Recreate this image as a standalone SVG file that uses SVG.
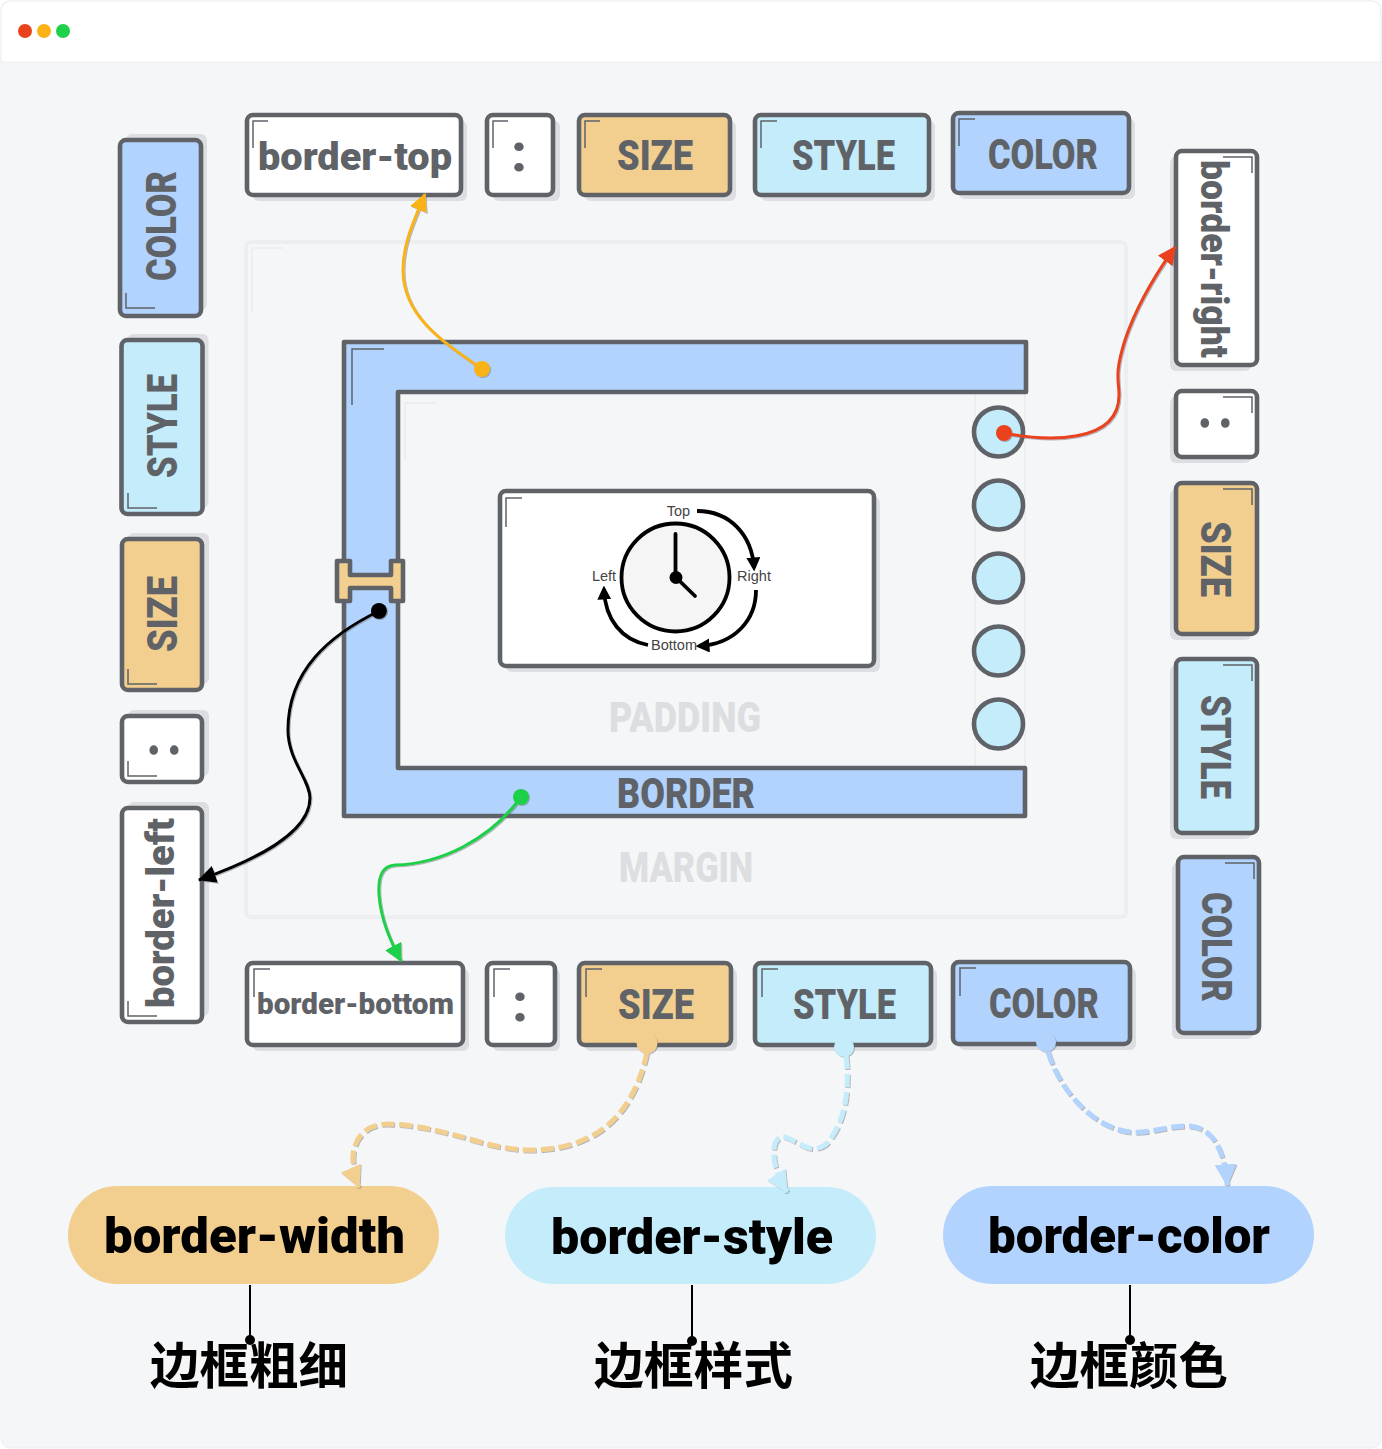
<svg xmlns="http://www.w3.org/2000/svg" width="1382" height="1449" viewBox="0 0 1382 1449">
<style>
.box{stroke:#5f6368;stroke-width:4.600;stroke-linejoin:round}
.sh{fill:#dcdee1}
.w{fill:#fff}.o{fill:#f3cf8f}.c{fill:#c4ecfb}.b{fill:#b1d3fd}
.mk{fill:none;stroke:#5f6368;stroke-width:1.5}
.mkl{fill:none;stroke:#eceef0;stroke-width:2}
.t{font-family:"Roboto","Liberation Sans",sans-serif;font-weight:900;font-size:42px;fill:#5f6368}
.s{font-size:38px}
.xs{font-size:30px}
.col{font-size:52px}
.pill{font-family:"Roboto","Liberation Sans",sans-serif;font-weight:900;font-size:50px;fill:#000}
.zh{font-family:"Noto Sans CJK SC",sans-serif;font-weight:700;font-size:50px;fill:#000}
.clk{font-family:"Liberation Sans",sans-serif;font-size:14.500px;fill:#444;text-anchor:middle}
.ca{fill:none;stroke:#000;stroke-width:3.800}
.con{fill:none;stroke-width:3}
.dash{fill:none;stroke-width:5;stroke-dasharray:13 5}
</style>
<defs>
<filter id="ds" x="-10%" y="-10%" width="120%" height="120%"><feDropShadow dx="1" dy="1" stdDeviation="0.6" flood-color="#5f6368" flood-opacity="0.45"/></filter>
<marker id="aY" markerUnits="userSpaceOnUse" markerWidth="18" markerHeight="18" viewBox="0 0 16 16" refX="15" refY="8" orient="auto"><path d="M0,0L16,8L0,16Z" fill="#f9b316"/></marker>
<marker id="aR" markerUnits="userSpaceOnUse" markerWidth="18" markerHeight="18" viewBox="0 0 16 16" refX="15" refY="8" orient="auto"><path d="M0,0L16,8L0,16Z" fill="#e9431d"/></marker>
<marker id="aK" markerUnits="userSpaceOnUse" markerWidth="18" markerHeight="18" viewBox="0 0 16 16" refX="15" refY="8" orient="auto"><path d="M0,0L16,8L0,16Z" fill="#000"/></marker>
<marker id="aG" markerUnits="userSpaceOnUse" markerWidth="18" markerHeight="18" viewBox="0 0 16 16" refX="15" refY="8" orient="auto"><path d="M0,0L16,8L0,16Z" fill="#1fd14a"/></marker>
<marker id="aO" markerUnits="userSpaceOnUse" markerWidth="22" markerHeight="22" viewBox="0 0 16 16" refX="15" refY="8" orient="auto"><path d="M0,0L16,8L0,16Z" fill="#f3cf8f"/></marker>
<marker id="aC" markerUnits="userSpaceOnUse" markerWidth="22" markerHeight="22" viewBox="0 0 16 16" refX="15" refY="8" orient="auto"><path d="M0,0L16,8L0,16Z" fill="#c4ecfb"/></marker>
<marker id="aB" markerUnits="userSpaceOnUse" markerWidth="22" markerHeight="22" viewBox="0 0 16 16" refX="15" refY="8" orient="auto"><path d="M0,0L16,8L0,16Z" fill="#b1d3fd"/></marker>
<marker id="ac" markerUnits="userSpaceOnUse" markerWidth="14" markerHeight="14" viewBox="0 0 16 16" refX="12" refY="8" orient="auto"><path d="M0,0L16,8L0,16Z" fill="#000"/></marker>
</defs>
<rect width="1382" height="1449" fill="#fff"/>
<rect x="1" y="1" width="1380" height="1447" rx="9" fill="#f5f6f8" stroke="#eceef0"/>
<path d="M1,62V10a9,9 0 0 1 9-9H1372a9,9 0 0 1 9,9V62Z" fill="#fff" stroke="#eceef0"/>
<circle cx="25" cy="31" r="7" fill="#e9431d"/><circle cx="44" cy="31" r="7" fill="#fbb215"/><circle cx="63" cy="31" r="7" fill="#1fd14a"/>

<g id="margin-box">
<rect x="246" y="242" width="880" height="675" rx="5" fill="none" stroke="#eceef0" stroke-width="4"/>
<path class="mkl" d="M252,312V248H283"/>
<text class="t" x="619" y="882" textLength="134" lengthAdjust="spacingAndGlyphs" style="fill:#dcdee1">MARGIN</text>
</g>
<g id="padding-box">
<path class="mkl" d="M405,460V403H437"/>
<path d="M975,394V767M1025,394V767" fill="none" stroke="#eceef0" stroke-width="2"/>
<text class="t" x="609" y="732" textLength="152" lengthAdjust="spacingAndGlyphs" style="fill:#dcdee1">PADDING</text>
</g>
<g id="border-shape">
<path class="box b" d="M344,342H1026V392H398V768H1025V816H344Z"/>
<path class="mk" d="M352,405V349H384"/>
<text class="t" x="617" y="808" textLength="138" lengthAdjust="spacingAndGlyphs">BORDER</text>
</g>
<g id="content-box">
<rect class="sh" x="506" y="497" width="374" height="175" rx="6"/>
<rect class="box w" x="500" y="491" width="374" height="175" rx="6"/>
<path class="mk" d="M506,527V498H522"/>
<circle cx="675.500" cy="577.500" r="54" fill="#f5f5f5" stroke="#000" stroke-width="3.800"/>
<path d="M675.500,577V534M675.500,577L695,596" fill="none" stroke="#000" stroke-width="3.800" stroke-linecap="round"/>
<circle cx="676" cy="577.500" r="6.500" fill="#000"/>
<path class="ca" d="M697,511C730,511 752,535 754,568" marker-end="url(#ac)"/>
<path class="ca" d="M756,590C756,620 735,644 699,646" marker-end="url(#ac)"/>
<path class="ca" d="M648,645C622,640 605,620 604,589" marker-end="url(#ac)"/>
<text class="clk" x="678.500" y="516">Top</text>
<text class="clk" x="754" y="581">Right</text>
<text class="clk" x="604" y="581">Left</text>
<text class="clk" x="674" y="650">Bottom</text>
</g>
<g id="side-dots">
<circle class="box c" cx="998.500" cy="432" r="24.500"/><circle class="box c" cx="998.500" cy="505" r="24.500"/><circle class="box c" cx="998.500" cy="578" r="24.500"/><circle class="box c" cx="998.500" cy="651" r="24.500"/><circle class="box c" cx="998.500" cy="724" r="24.500"/>
</g>
<g id="size-handle"><path class="box o" d="M337,561H350V575H391V561H403V601H391V588H350V601H337Z"/></g>

<g id="top-border-top"><rect class="sh" x="253" y="121" width="214" height="80" rx="6"/><rect class="box w" x="247" y="115" width="214" height="80" rx="6"/><path class="mk" d="M253,148V121H268"/><text class="t s" x="258" y="170" textLength="194" lengthAdjust="spacingAndGlyphs">border-top</text></g>
<g id="top-colon"><rect class="sh" x="493" y="121" width="67" height="80" rx="6"/><rect class="box w" x="487" y="115" width="66" height="80" rx="6"/><path class="mk" d="M493,148V121H508"/><text class="t col" x="519" y="171" text-anchor="middle">:</text></g>
<g id="top-size"><rect class="sh" x="585" y="121" width="151" height="80" rx="6"/><rect class="box o" x="579" y="115" width="151" height="80" rx="6"/><path class="mk" d="M585,148V121H600"/><text class="t" x="617" y="170" textLength="76" lengthAdjust="spacingAndGlyphs">SIZE</text></g>
<g id="top-style"><rect class="sh" x="761" y="121" width="174" height="80" rx="6"/><rect class="box c" x="755" y="115" width="174" height="80" rx="6"/><path class="mk" d="M761,148V121H777"/><text class="t" x="792" y="170" textLength="103" lengthAdjust="spacingAndGlyphs">STYLE</text></g>
<g id="top-color"><rect class="sh" x="959" y="119" width="176" height="80" rx="6"/><rect class="box b" x="953" y="113" width="176" height="80" rx="6"/><path class="mk" d="M959,146V119H975"/><text class="t" x="988" y="169" textLength="110" lengthAdjust="spacingAndGlyphs">COLOR</text></g>

<g id="bottom-border-bottom"><rect class="sh" x="253" y="969" width="216" height="82" rx="6"/><rect class="box w" x="247" y="963" width="216" height="82" rx="6"/><path class="mk" d="M254,997V969H270"/><text class="t xs" x="257" y="1014" textLength="197" lengthAdjust="spacingAndGlyphs">border-bottom</text></g>
<g id="bottom-colon"><rect class="sh" x="493" y="969" width="67" height="82" rx="6"/><rect class="box w" x="487" y="963" width="68" height="82" rx="6"/><path class="mk" d="M494,997V969H510"/><text class="t col" x="520" y="1021" text-anchor="middle">:</text></g>
<g id="bottom-size"><rect class="sh" x="585" y="969" width="152" height="82" rx="6"/><rect class="box o" x="579" y="963" width="152" height="82" rx="6"/><path class="mk" d="M586,997V969H602"/><text class="t" x="618" y="1019" textLength="76" lengthAdjust="spacingAndGlyphs">SIZE</text></g>
<g id="bottom-style"><rect class="sh" x="761" y="969" width="176" height="82" rx="6"/><rect class="box c" x="755" y="963" width="176" height="82" rx="6"/><path class="mk" d="M762,997V969H778"/><text class="t" x="793" y="1019" textLength="103" lengthAdjust="spacingAndGlyphs">STYLE</text></g>
<g id="bottom-color"><rect class="sh" x="959" y="968" width="177" height="82" rx="6"/><rect class="box b" x="953" y="962" width="177" height="82" rx="6"/><path class="mk" d="M960,996V968H976"/><text class="t" x="989" y="1018" textLength="110" lengthAdjust="spacingAndGlyphs">COLOR</text></g>

<g id="left-color"><rect class="sh" x="126" y="134" width="81" height="176" rx="6"/><rect class="box b" x="120" y="140" width="81" height="176" rx="6"/><path class="mk" d="M126,293V308H155"/><text class="t" transform="translate(176 281) rotate(-90)" textLength="110" lengthAdjust="spacingAndGlyphs">COLOR</text></g>
<g id="left-style"><rect class="sh" x="127.500" y="334" width="81" height="174" rx="6"/><rect class="box c" x="121.500" y="340" width="81" height="174" rx="6"/><path class="mk" d="M128,493V508H157"/><text class="t" transform="translate(177 478) rotate(-90)" textLength="104" lengthAdjust="spacingAndGlyphs">STYLE</text></g>
<g id="left-size"><rect class="sh" x="128" y="533" width="81" height="151" rx="6"/><rect class="box o" x="122" y="539" width="80" height="151" rx="6"/><path class="mk" d="M128,669V684H157"/><text class="t" transform="translate(177 652) rotate(-90)" textLength="76" lengthAdjust="spacingAndGlyphs">SIZE</text></g>
<g id="left-colon"><rect class="sh" x="128" y="710" width="81" height="66" rx="6"/><rect class="box w" x="122" y="716" width="80" height="66" rx="6"/><path class="mk" d="M128,761V776H157"/><text class="t col" transform="translate(178 750) rotate(-90)" text-anchor="middle">:</text></g>
<g id="left-border-left"><rect class="sh" x="128" y="802" width="81" height="214" rx="6"/><rect class="box w" x="122" y="808" width="80" height="214" rx="6"/><path class="mk" d="M128,1001V1016H157"/><text class="t s" transform="translate(174 1008) rotate(-90)" textLength="190" lengthAdjust="spacingAndGlyphs">border-left</text></g>

<g id="right-border-right"><rect class="sh" x="1170" y="157" width="81" height="214" rx="6"/><rect class="box w" x="1176" y="151" width="81" height="214" rx="6"/><path class="mk" d="M1223,157H1252V173"/><text class="t s" transform="translate(1201 160) rotate(90)" textLength="198" lengthAdjust="spacingAndGlyphs">border-right</text></g>
<g id="right-colon"><rect class="sh" x="1170" y="397" width="81" height="66" rx="6"/><rect class="box w" x="1176" y="391" width="81" height="66" rx="6"/><path class="mk" d="M1223,397H1252V413"/><text class="t col" transform="translate(1201 423) rotate(90)" text-anchor="middle">:</text></g>
<g id="right-size"><rect class="sh" x="1170" y="489" width="81" height="151" rx="6"/><rect class="box o" x="1176" y="483" width="81" height="151" rx="6"/><path class="mk" d="M1223,489H1252V505"/><text class="t" transform="translate(1201 521) rotate(90)" textLength="76" lengthAdjust="spacingAndGlyphs">SIZE</text></g>
<g id="right-style"><rect class="sh" x="1170" y="665" width="81" height="174" rx="6"/><rect class="box c" x="1176" y="659" width="81" height="174" rx="6"/><path class="mk" d="M1223,665H1252V681"/><text class="t" transform="translate(1201 695) rotate(90)" textLength="104" lengthAdjust="spacingAndGlyphs">STYLE</text></g>
<g id="right-color"><rect class="sh" x="1172" y="863" width="81" height="176" rx="6"/><rect class="box b" x="1178" y="857" width="81" height="176" rx="6"/><path class="mk" d="M1225,863H1254V879"/><text class="t" transform="translate(1202 892) rotate(90)" textLength="110" lengthAdjust="spacingAndGlyphs">COLOR</text></g>

<g id="pill-width"><rect class="o" x="68" y="1186" width="371" height="98" rx="49"/><text class="pill" x="104" y="1253" textLength="301" lengthAdjust="spacingAndGlyphs">border-width</text></g>
<g id="pill-style"><rect class="c" x="505" y="1187" width="371" height="97" rx="48.500"/><text class="pill" x="551" y="1254" textLength="282" lengthAdjust="spacingAndGlyphs">border-style</text></g>
<g id="pill-color"><rect class="b" x="943" y="1186" width="371" height="98" rx="49"/><text class="pill" x="988" y="1253" textLength="282" lengthAdjust="spacingAndGlyphs">border-color</text></g>

<g id="label-width"><text class="zh" x="150" y="1384" textLength="198" lengthAdjust="spacingAndGlyphs">边框粗细</text></g>
<g id="label-style"><text class="zh" x="594" y="1384" textLength="199" lengthAdjust="spacingAndGlyphs">边框样式</text></g>
<g id="label-color"><text class="zh" x="1030" y="1384" textLength="198" lengthAdjust="spacingAndGlyphs">边框颜色</text></g>

<g id="connectors">
<g filter="url(#ds)">
<path class="con" stroke="#f9b316" d="M482,369C440,340 403,315 403,270C403,245 412,225 425,194" marker-end="url(#aY)"/>
<circle cx="482" cy="369" r="8" fill="#f9b316"/>
<path class="con" stroke="#e9431d" d="M1004,433C1045,441 1119,445 1119,395C1119,380 1114,375 1125,340C1135,310 1155,275 1175,247" marker-end="url(#aR)"/>
<circle cx="1004" cy="433" r="8" fill="#e9431d"/>
<path class="con" stroke="#000" d="M379,611C330,635 288,670 288,730C288,760 310,780 310,798C310,835 250,862 199,880" marker-end="url(#aK)"/>
<circle cx="379" cy="611" r="8" fill="#000"/>
<path class="con" stroke="#1fd14a" d="M521,797C490,840 440,864 395,865C380,866 378,880 379,895C381,920 390,940 401,961" marker-end="url(#aG)"/>
<circle cx="521" cy="797" r="8" fill="#1fd14a"/>
<path class="dash" stroke="#f3cf8f" d="M647,1052C640,1085 625,1115 597,1133C565,1152 525,1155 480,1142C440,1130 410,1124 387,1124C365,1124 352,1140 353,1160C353,1170 355,1178 359,1187" marker-end="url(#aO)"/>
<circle cx="647" cy="1043" r="10.500" fill="#f3cf8f"/>
<path class="dash" stroke="#c4ecfb" d="M846,1056C850,1090 845,1125 825,1145C810,1155 800,1142 785,1137C772,1135 772,1155 776,1168C778,1176 782,1184 787,1192" marker-end="url(#aC)"/>
<circle cx="844" cy="1047" r="10" fill="#c4ecfb"/>
<path class="dash" stroke="#b1d3fd" d="M1048,1052C1058,1085 1085,1120 1120,1130C1145,1137 1165,1125 1190,1126C1215,1128 1225,1155 1227,1185" marker-end="url(#aB)"/>
<circle cx="1046" cy="1042" r="10" fill="#b1d3fd"/>
</g>
<path d="M250,1285V1340M692,1285V1341M1130,1285V1340" fill="none" stroke="#000" stroke-width="2"/>
<circle cx="250" cy="1340" r="5" fill="#000"/><circle cx="692" cy="1341" r="5" fill="#000"/><circle cx="1130" cy="1340" r="5" fill="#000"/>
</g>
</svg>
